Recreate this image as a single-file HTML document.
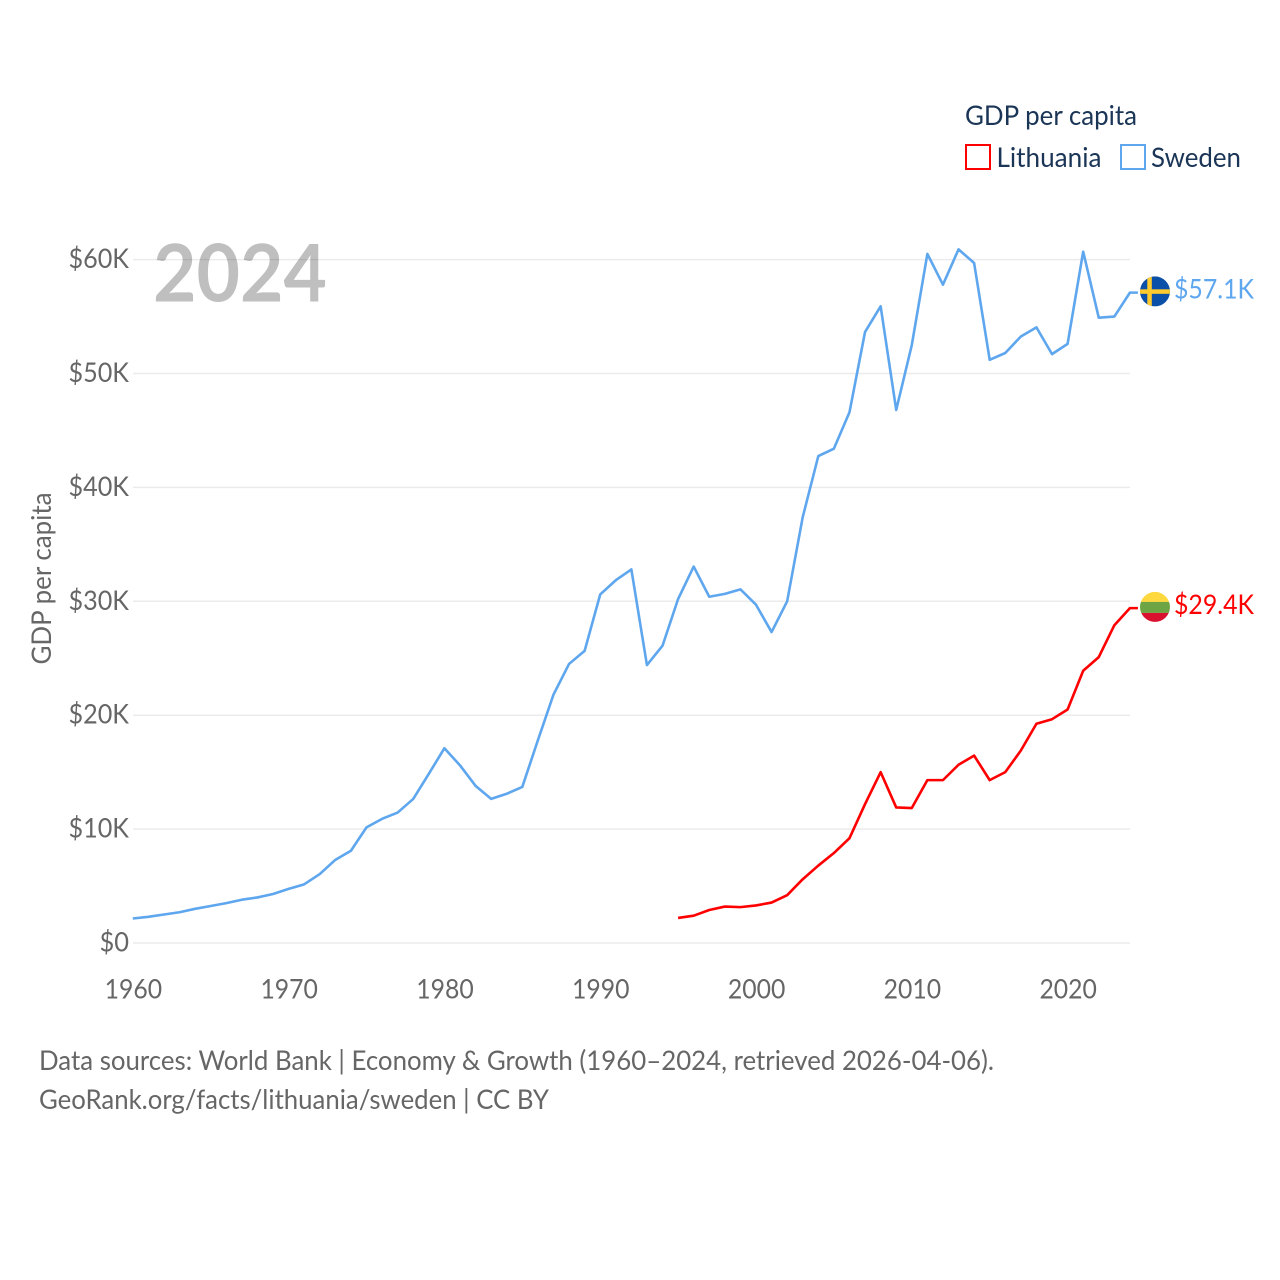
<!DOCTYPE html>
<html lang="en">
<head>
<meta charset="utf-8">
<title>GDP per capita: Lithuania and Sweden</title>
<style>
  html, body { margin: 0; padding: 0; background: #fff; }
  #chart { display: block; width: 1280px; height: 1280px; font-family: "Lato", "Carlito", "Liberation Sans", sans-serif; }
</style>
</head>
<body>
<svg id="chart" xmlns="http://www.w3.org/2000/svg" width="1280" height="1280" viewBox="0 0 1280 1280">
  <defs>
    <clipPath id="flag-clip-se"><circle cx="0" cy="0" r="15"></circle></clipPath>
    <clipPath id="flag-clip-lt"><circle cx="0" cy="0" r="15"></circle></clipPath>
  </defs>
  <g id="grid"></g>
  <g id="yticks"></g>
  <g id="xticks"></g>
  <text transform="translate(51,664.5) rotate(-90)" font-size="27.5" fill="#666666" textLength="172" lengthAdjust="spacingAndGlyphs">GDP per capita</text>
  <text x="153" y="301.5" font-size="80" font-weight="700" fill="#000000" fill-opacity="0.25" textLength="174" lengthAdjust="spacingAndGlyphs">2024</text>
  <g>
    <text x="965" y="125" font-size="27.5" fill="#1a3556" textLength="172" lengthAdjust="spacingAndGlyphs">GDP per capita</text>
    <g>
      <rect x="966" y="145" width="24" height="24" fill="none" stroke="#ff0000" stroke-width="2"></rect>
      <text x="996.5" y="167" font-size="27.5" fill="#1a3556" textLength="105" lengthAdjust="spacingAndGlyphs">Lithuania</text>
    </g>
    <g>
      <rect x="1121" y="145" width="24" height="24" fill="none" stroke="#5ea6ee" stroke-width="2"></rect>
      <text x="1151" y="167" font-size="27.5" fill="#1a3556" textLength="90" lengthAdjust="spacingAndGlyphs">Sweden</text>
    </g>
  </g>
  <g id="series"></g>
  <g id="flag-se" clip-path="url(#flag-clip-se)">
    <rect x="-15" y="-15" width="30" height="30" fill="#0b50a8"></rect>
    <rect x="-7.7" y="-15" width="4.5" height="30" fill="#fecb2e"></rect>
    <rect x="-15" y="-2.1" width="30" height="4.5" fill="#fecb2e"></rect>
  </g>
  <g id="flag-lt" clip-path="url(#flag-clip-lt)">
    <rect x="-15" y="-15" width="30" height="10" fill="#fdd83f"></rect>
    <rect x="-15" y="-5" width="30" height="11" fill="#6ea544"></rect>
    <rect x="-15" y="6" width="30" height="10" fill="#d9112f"></rect>
  </g>
  <g>
    <text x="39" y="1070" font-size="27.5" fill="#666666" textLength="955" lengthAdjust="spacingAndGlyphs">Data sources: World Bank | Economy &amp; Growth (1960–2024, retrieved 2026-04-06).</text>
    <text x="39" y="1109" font-size="27.5" fill="#666666" textLength="510" lengthAdjust="spacingAndGlyphs">GeoRank.org/facts/lithuania/sweden | CC BY</text>
  </g>
</svg>
<script>
const swedenYears = [1960,1961,1962,1963,1964,1965,1966,1967,1968,1969,1970,1971,1972,1973,1974,1975,1976,1977,1978,1979,1980,1981,1982,1983,1984,1985,1986,1987,1988,1989,1990,1991,1992,1993,1994,1995,1996,1997,1998,1999,2000,2001,2002,2003,2004,2005,2006,2007,2008,2009,2010,2011,2012,2013,2014,2015,2016,2017,2018,2019,2020,2021,2022,2023,2024];
const swedenValues = [2.15,2.3,2.5,2.7,3.0,3.25,3.5,3.8,4.0,4.3,4.75,5.15,6.05,7.3,8.1,10.15,10.9,11.45,12.65,14.85,17.1,15.6,13.8,12.65,13.1,13.7,17.8,21.8,24.5,25.65,30.6,31.85,32.8,24.4,26.1,30.2,33.05,30.4,30.65,31.05,29.7,27.3,30.0,37.4,42.75,43.4,46.6,53.65,55.9,46.8,52.5,60.5,57.8,60.9,59.7,51.2,51.8,53.25,54.05,51.7,52.6,60.7,54.9,55.0,57.1];
const lithuaniaYears = [1995,1996,1997,1998,1999,2000,2001,2002,2003,2004,2005,2006,2007,2008,2009,2010,2011,2012,2013,2014,2015,2016,2017,2018,2019,2020,2021,2022,2023,2024];
const lithuaniaValues = [2.2,2.4,2.9,3.2,3.15,3.3,3.55,4.2,5.6,6.8,7.9,9.2,12.2,15.0,11.9,11.85,14.3,14.3,15.65,16.45,14.3,15.0,16.9,19.25,19.65,20.5,23.9,25.1,27.9,29.4];
const yTicks = [0,10,20,30,40,50,60];
const xTicks = [1960,1970,1980,1990,2000,2010,2020];

const NS = 'http://www.w3.org/2000/svg';
const xScale = function (year) { return 132.8 + (year - 1960) * 15.58; };
const yScale = function (k) { return 943 - k * 11.39; };
const money = function (k) { return k === 0 ? '$0' : '$' + k + 'K'; };

function make(tag, attrs, parent) {
  const el = document.createElementNS(NS, tag);
  for (const key in attrs) { el.setAttribute(key, attrs[key]); }
  parent.appendChild(el);
  return el;
}

const gridG = document.getElementById('grid');
const yG = document.getElementById('yticks');
const xG = document.getElementById('xticks');
const seriesG = document.getElementById('series');

yTicks.forEach(function (t) {
  const line = make('line', { x1: 133, x2: 1130, y1: yScale(t), y2: yScale(t), stroke: '#ebebeb', 'stroke-width': 1.5 }, gridG);
  
  
  const label = make('text', { x: 129, y: yScale(t) + 8.5, 'text-anchor': 'end', 'font-size': 27.5, fill: '#666666', textLength: t === 0 ? 29.5 : 60.5, lengthAdjust: 'spacingAndGlyphs' }, yG);
  label.textContent = money(t);
  
  
});

xTicks.forEach(function (t) {
  const label = make('text', { x: xScale(t) + 0.6, y: 998.5, 'text-anchor': 'middle', 'font-size': 27.5, fill: '#666666', textLength: 57.5, lengthAdjust: 'spacingAndGlyphs' }, xG);
  label.textContent = String(t);
  
  
});

function drawSeries(years, values, color, seriesName, flagId) {
  const lastY = yScale(values[values.length - 1]);
  const endX = xScale(years[years.length - 1]) + 8;
  let d = years.map(function (y, i) {
    return (i ? 'L' : 'M') + xScale(y).toFixed(2) + ' ' + yScale(values[i]).toFixed(2);
  }).join(' ');
  d += ' L' + endX.toFixed(2) + ' ' + lastY.toFixed(2);
  const path = make('path', { d: d, fill: 'none', stroke: color, 'stroke-width': 2.6, 'stroke-linejoin': 'round' }, seriesG);
  
  
  document.getElementById(flagId).setAttribute('transform', 'translate(1155,' + (lastY - 1.2).toFixed(2) + ')');
  const label = make('text', { x: 1174, y: lastY + 6, 'font-size': 27.5, fill: color, textLength: 80, lengthAdjust: 'spacingAndGlyphs' }, seriesG);
  label.textContent = '$' + values[values.length - 1].toFixed(1) + 'K';
  
  
}

drawSeries(swedenYears, swedenValues, '#5ea6ee', 'sweden', 'flag-se');
drawSeries(lithuaniaYears, lithuaniaValues, '#ff0000', 'lithuania', 'flag-lt');
</script>
</body>
</html>
